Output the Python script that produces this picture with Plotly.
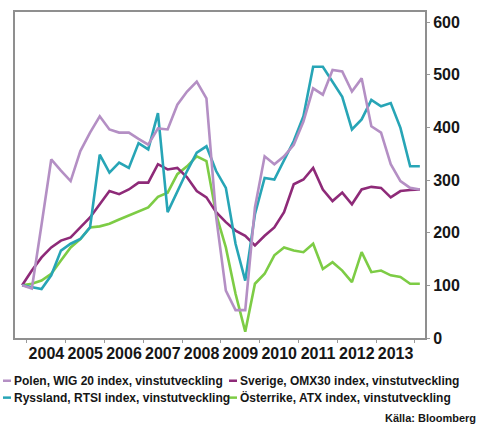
import plotly.graph_objects as go

# Quarterly observations, Q4 2003 .. Q1 2014 (index, start = 100)
quarters = [2003.875 + 0.25 * i for i in range(42)]

polen = [100, 94, 215, 339, 318, 298, 355, 390, 421, 396, 390, 390, 378, 367,
         398, 396, 443, 468, 487, 455, 230, 90, 53, 53, 248, 345, 330, 345,
         367, 411, 474, 462, 509, 506, 468, 493, 402, 390, 330, 298, 285, 282]
sverige = [100, 128, 153, 172, 185, 191, 210, 229, 254, 279, 273, 282, 295, 295,
           330, 320, 323, 305, 279, 267, 239, 220, 204, 194, 176, 194, 210, 239,
           292, 301, 323, 282, 260, 276, 254, 282, 287, 285, 267, 279, 281, 282]
ryssland = [100, 97, 93, 119, 166, 179, 188, 210, 348, 314, 333, 323, 370, 358,
            427, 239, 279, 317, 352, 364, 317, 285, 179, 109, 235, 304, 301, 336,
            374, 421, 515, 515, 487, 458, 396, 415, 452, 440, 446, 399, 326, 326]
osterrike = [100, 103, 109, 122, 147, 172, 188, 210, 212, 217, 225, 233, 240, 248,
             268, 276, 311, 326, 345, 336, 235, 172, 84, 12, 103, 122, 157, 172,
             166, 163, 179, 131, 144, 128, 106, 163, 125, 128, 119, 116, 103, 103]

series_names = ["Polen, WIG 20 index, vinstutveckling",
                "Sverige, OMX30 index, vinstutveckling",
                "Ryssland, RTSI index, vinstutveckling",
                "Österrike, ATX index, vinstutveckling"]
series_values = [polen, sverige, ryssland, osterrike]
series_colors = ["#b48fc4", "#8e2a78", "#27a5b6", "#7dcc45"]

year_labels = [str(y) for y in range(2004, 2014)]
y_ticks = [0, 100, 200, 300, 400, 500, 600]
source_text = "Källa: Bloomberg"

FONT = "Liberation Sans, Arial, sans-serif"
TEXT = "#161616"

fig = go.Figure()
# draw order: Österrike, Sverige, Ryssland, Polen on top
for idx in [3, 1, 2, 0]:
    fig.add_trace(go.Scatter(
        x=quarters, y=series_values[idx], mode="lines", name=series_names[idx],
        line=dict(color=series_colors[idx], width=2.6), showlegend=False,
        hoverinfo="skip"))

fig.update_layout(
    width=481, height=432,
    margin=dict(l=15, r=56, t=10, b=94),
    paper_bgcolor="white", plot_bgcolor="white",
    font=dict(family=FONT, color=TEXT),
)

fig.update_xaxes(
    range=[2003.691, 2014.258],
    tickmode="array",
    tickvals=[int(y) + 0.5 for y in year_labels],
    ticktext=year_labels,
    ticks="", tickangle=0,
    tickfont=dict(size=16, family=FONT, weight="bold", color=TEXT),
    showgrid=False, zeroline=False,
    showline=True, mirror=True, linecolor="#8f8f8f", linewidth=2,
    minor=dict(tickmode="array", tickvals=list(range(2004, 2015)),
               ticks="outside", ticklen=3, tickcolor="#9a9a9a", tickwidth=1),
)
fig.update_yaxes(
    range=[0, 619], side="right",
    tickmode="array", tickvals=y_ticks, ticktext=[str(v) for v in y_ticks],
    ticks="outside", ticklen=3, tickcolor="#9a9a9a",
    tickfont=dict(size=16, family=FONT, weight="bold", color=TEXT),
    showgrid=False, zeroline=False,
    showline=True, mirror=True, linecolor="#8f8f8f", linewidth=2,
)

# Two-column legend below the chart: colour swatch + label
plot_w, plot_h, plot_l, plot_b = 410.0, 328.0, 15.0, 338.0


def px_x(px):
    return (px - plot_l) / plot_w


def px_y(py):
    return (plot_b - py) / plot_h


legend_px = [(3, 381), (229, 381), (3, 398), (229, 398)]
for name, color, (lx, ly) in zip(series_names, series_colors, legend_px):
    fig.add_shape(
        type="line", xref="paper", yref="paper",
        x0=px_x(lx), x1=px_x(lx + 8), y0=px_y(ly), y1=px_y(ly),
        line=dict(color=color, width=2.5))
    fig.add_annotation(
        xref="paper", yref="paper", x=px_x(lx + 9), y=px_y(ly),
        xanchor="left", yanchor="middle", showarrow=False, text=name,
        font=dict(size=12, family=FONT, weight="bold", color=TEXT))

fig.add_annotation(
    xref="paper", yref="paper", x=px_x(478), y=px_y(418),
    xanchor="right", yanchor="middle",
    showarrow=False, text=source_text,
    font=dict(size=11, family=FONT, weight="bold", color=TEXT))

fig.write_html("out.html")
